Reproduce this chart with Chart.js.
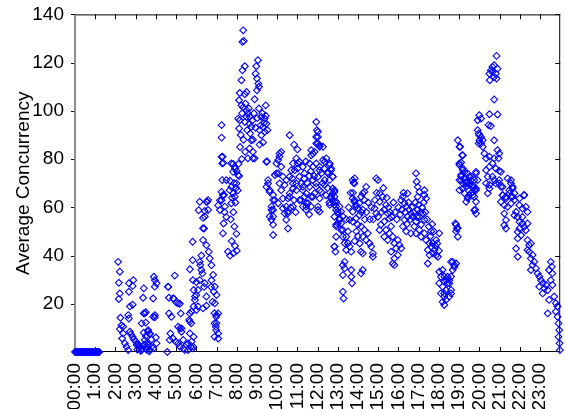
<!DOCTYPE html>
<html><head><meta charset="utf-8">
<script src="https://cdn.jsdelivr.net/npm/chart.js@4.4.0/dist/chart.umd.min.js"></script>
<style>html,body{margin:0;padding:0;background:#fff;}canvas{display:block;}</style>
</head><body>
<canvas id="c" width="566" height="409"></canvas>
<script>
// Tick labels
const hourLabels = ['00:00','1:00','2:00','3:00','4:00','5:00','6:00','7:00','8:00','9:00','10:00','11:00',
  '12:00','13:00','14:00','15:00','16:00','17:00','18:00','19:00','20:00','21:00','22:00','23:00'];
const yTickValues = [0,20,40,60,80,100,120,140];

// Data: [minute of day, average concurrency]
const nightZero = [[0,0],[3,0],[6,0],[9,0],[12,0],[15,0],[18,0],[21,0],[24,0],[27,0],[30,0],[33,0],[36,0],[39,0],[42,0],[45,0],[48,0],[51,0],[54,0],[57,0],[60,0],[63,0],[66,0],[69,0],[72,0]];

const earlyMorning = [[128,37.4],[133,33.3],[130,28.7],[133,24.3],[130,22],[135,14.2],[138,11],[133,9.5],[143,7.7],[140,5.6],[148,3.6],[153,2.2],[158,0.8],[143,10.5],[158,15.3],[160,13.9],[163,18.9],[171,19.6],[160,28.5],[173,29.8],[171,27.4],[160,25],[163,8.4],[166,7.4],[171,6.3],[175,5.2],[181,4.3],[188,3.2],[193,2.2],[198,0.8],[183,2.9],
 [204,26.4],[202,22.5],[204,16],[210,12.2],[204,8],[210,6.6],[217,8.4],[222,7.4],[227,5.2],[234,31.2],[237,29.8],[237,27.1],[232,22.2],[237,14.4],[240,6],[242,3.6],[217,2.9],[227,2.2],[222,0.8],[212,3.6],[207,5],[232,1.5],[207,16],[210,16.5],[198,11.9],[222,7.7],[217,9.1],[232,14.6],[237,15.3],[242,28.5],[185,1],[190,2.5],[195,0.5],[200,1.5],[205,3],[212,1],[215,2],[220,0.3],
 [276,27.1],[296,31.7],[279,22.5],[293,22.2],[301,20.5],[311,20],[314,16],[279,16],[286,14.6],[306,10.5],[311,9.8],[283,7.7],[291,5.6],[299,4.3],[306,3.6],[311,2.2],[321,1.5],[326,0.8],[274,0],[281,5],[316,8.4],[321,5],[331,2.9],[336,0.8],[277,27],[291,22.2],[306,20.2],[316,9.8],
 [349,45.7],[341,34.3],[349,38.1],[350,29.8],[352,25.7],[356,23],[352,18.9],[341,16],[345,11.9],[341,7.7],[336,3.6],[343,2.2],[349,1.5],[339,13.3],[352,6.3],[346,16.8],[341,12.6],[351,2.2],[346,4.3]];

const morningRise = [[367,58.8],[380,55.6],[383,51.2],[380,46.4],[390,44.3],[397,41.6],[400,38.8],[370,37.4],[375,34],[370,29.8],[365,25.7],[360,23.6],[356,21.6],[365,18.9],[385,28.5],[390,23],[380,18.1],[390,19.2],[392,62.3],[385,58.5],[360,17.4],[372,36],[378,32.6],[383,27],[360,29],[375,40],[370,62.3],[390,62.3],[395,63],[395,58.9],[385,56.2],[380,51.3],
 [405,29.8],[410,32],[415,27.1],[420,23.6],[415,20.2],[425,16],[420,15.3],[420,11.9],[425,7.7],[425,5.6],[418,10.5],[405,36],[412,25],[414,16.1],[419,14.6],[414,11.9],[419,9.1],[414,6.3],[408,20.8],[404,27],
 [425,60.8],[435,62.9],[439,65],[444,58],[449,56],[441,53.3],[439,49.2],[454,41.6],[449,71.3],[430,62.9],[435,80.9],[437,78.2],[437,71.3],[435,94.1],[435,88.9],[438,81],[440,78.4],[435,66.4],[442,65.1],[445,60.3],[430,58.9],
 [464,78.2],[474,76.8],[469,74.7],[484,73.4],[479,69.9],[464,68.5],[459,67.1],[469,65.8],[474,64.4],[464,61.7],[469,78],[475,76],[480,75],[487,73],[460,71],[472,70],[478,68],[483,67],[466,64],[476,62],[470,58],[462,55],[473,52],[479,49],[465,46],[475,44],[470,41],[480,42],[460,40]];

const morningPeak = [[499,133.4],[497,128.6],[501,129],[504,118.5],[497,116.8],[494,112.7],[489,107.4],[504,106.9],[509,107.8],[487,104.4],[494,102.3],[499,101.4],[509,100.3],[513,98.9],[484,96.8],[489,96.1],[504,95.4],[518,94.7],[509,97.5],[518,97.5],[523,93.4],[487,92.7],[520,90.6],[523,87.8],[518,84.4],[528,83],[513,80.3],[533,80.3],[533,104.8],[543,121],[538,118.5],[536,115.4],[540,113.4],[544,111.3],[546,110],[540,108.5],[553,97.5],[563,96.8],[568,94.7],[558,93.4],[548,92],[563,91.3],[553,89.9],[566,102.3],
 [492,90],[496,99],[506,103],[511,92],[516,101],[526,96],[531,99],[536,93],[541,97],[546,101],[551,94],[556,99],[561,95],[566,98],[571,92],[528,88],[548,86],[558,86.9],[528,80.3],[568,78.9],[570,79],[490,85],[500,88],[505,83],[495,80],[485,78],
 [573,69.9],[578,67.1],[588,63],[583,58.9],[578,56.2],[573,71.3],[568,68.5],[578,66.4],[588,65.1],[593,63],[583,60.3],[588,58.9],[588,56.2],[583,54.8],[588,52.8],[588,48.5],[593,73.4],[598,78.2]];

const midday = [[607,82.3],[603,79.6],[612,76.8],[598,74.1],[617,72.7],[607,69.9],[627,71.3],[637,89.9],[657,80.3],[661,78.2],[652,75.4],[666,72.7],[647,69.9],[676,68.5],[657,67.1],[637,64.4],[666,63],[647,60.3],[686,61.7],[632,58.2],
 [612,83],[607,81],[603,74.1],[603,61.7],[617,63.7],[612,67.1],[622,69.3],[637,72.7],[642,75.4],[647,78.2],[666,78.9],[661,76.1],[676,76.8],[681,74.1],[657,69.9],[647,67.8],[637,65.8],[632,63.7],[627,60.3],[632,57.5],[627,54.8],[632,51.2],[617,59.6],[622,57.5],
 [671,69.9],[676,67.1],[681,64.4],[671,63],[676,60.3],[691,61.7],[701,60.3],[686,58.9],[701,64.4],[711,65.8],[716,68.5],[706,71.3],[721,72.7],[731,74.1],[726,76.8],[741,78.9],[746,80.3],[755,77.5],[750,74.7],[760,75.4],[765,72.7],[755,71.3],[741,69.3],[731,66.4],[726,63.7],[721,60.3],[726,58.2],[765,67.8],[770,66.4],[760,64.4],[765,63],[770,61],[775,58.9],[780,57.5],[785,54.8],[790,53.4],[795,50.6],[805,47.8],[775,52.8],[770,43.7],
 [716,95.4],[718,92],[716,89.2],[721,86.5],[711,83],[701,81.6],[726,85.1],[736,85.1],[696,78.2],[706,76.8],[716,78.2],[726,75.4],[736,79.6],[750,74.1],[741,71.3],[716,69.9],[696,68.5],[726,67.1],[686,65.8],[706,64.4],[686,60.3],[721,58.9],[721,91.3],[721,89.2],[716,86.5],[726,85.8],[701,83.7],[706,82.3],
 [765,65.8],[770,64.4],[775,62.3],[785,60.3],[790,58.2],[795,56.2],[756,78.2],[760,76.1],[765,72.7],[770,67.1],[760,63.7],[770,62.3],[756,61],[775,60.3],[780,58.2],[770,56.1],[785,55.4],[780,53.4],[775,52.1],[790,50.6],[775,47.8],[795,47.8],[800,45.1],[810,45.1],[805,42.3],[815,43.7],[820,41.6],[770,43.7],[773,41.6],[800,37.4],[795,36],[800,34.7],[795,31.9],[795,25],[797,22.2],
 [690,70],[695,73],[680,72],[685,79],[660,84],[650,86],[645,72],[700,75],[710,73],[740,76],[735,70],[750,68],[745,65],[755,62],[650,63],[640,60],[655,58],[695,57]];

const afternoon = [[824,71.3],[829,69.9],[829,63],[834,60.3],[824,58.2],[830,72],[827,70.2],[820,34],[820,31.2],[822,28.5],[849,41.6],[854,40.9],[854,34],[849,32.6],[824,63.7],[829,62.3],[834,61],[839,59.6],[844,61.7],[849,64.4],[854,65.8],[859,66.4],[864,68.5],[859,63],[854,59],[844,56.8],[834,55.4],[824,54.1],[815,54.8],[839,52.8],[849,52.1],[859,50.6],[869,49.2],[854,47.8],[864,46.4],[874,45.1],[879,43.7],[884,40.9],[884,39.5],
 [894,72],[899,71.3],[904,65.8],[913,64.4],[904,62.3],[923,61],[918,59],[928,57.5],[933,55.4],[918,54.1],[908,52.8],[899,56.1],[894,57.5],[889,59.6],[904,50.6],[923,50.6],[938,52.1],[933,49.2],[943,47.8],[928,46.4],[918,47.8],[948,45.1],[953,43],[938,41.6],[958,40.2],[948,38.8],[943,36.7],[948,36],[963,44.4],[968,43],[958,46.4],
 [973,64.4],[968,63],[978,61.7],[987,65.8],[983,60.3],[992,59],[997,57.5],[987,56.1],[978,54.8],[973,52.1],[983,50],[997,49.2],[1007,52.1],[1012,54.1],[1002,56.1],[1017,59],[1022,56.1],[1032,57.5],[1037,54.8],[1027,52.8],[1022,50.6],[1012,49.2],[1027,47.8],[1037,49.2],[1042,46.4],[1052,45.1],[1047,42.3],[1057,43.7],[1012,74.1],[1014,70.6],[1017,68.5],[1022,66.4],[1037,67.1],[1042,63.7],[1017,64.4],[1037,65.1],
 [1047,36.7],[1052,40.2],[1062,40.9],[1072,40.2],[1077,39.5],[1067,42.3],[1057,50],[1072,46.4],[1062,45.1],[1081,49.2],[1081,33.3],[1091,34],[1086,31.2],[1096,29.2],[1081,28.5],[1091,27.1],[1101,25.7],[1086,24.3],[1096,23],[1091,20.8],[1096,19.5],[1106,31.2],[1111,28.5],[1116,25.7],[1121,34],[1126,35.3],[1116,37.4],[1131,36.7],[1131,52.8],[1136,51.4],[1131,50],[1136,47.8],[1096,31.3],[1101,29.8],[1106,28.5],[1096,24.3],[1101,21.6],[1111,23],[1116,24.3],[1111,29.8],[1116,31.3],[1121,37.4],[1126,36],[1129,53.3],[1133,51.2],
 [880,60],[885,55],[890,63],[895,66],[910,58],[915,68],[925,64],[930,60],[935,58],[940,56],[945,62],[950,58],[955,55],[960,60],[965,57],[970,59],[975,66],[980,58],[985,53],[990,62],[995,55],[1000,60],[1005,58],[1010,62],[1015,56],[1020,61],[1025,58],[1030,60],[1035,62],[1040,58],[1045,55],[1050,52],[1055,48],[1060,53],[1065,50],[1070,44],[1075,45],[1080,42],[840,48],[845,45],[860,55],[865,58],[870,62],[875,55],[850,58],[835,50],[830,46],[810,50],[805,55],[812,60],[818,66],[825,66]];

const evening = [[1136,87.8],[1141,85.1],[1151,81.6],[1146,78.6],[1141,77.5],[1151,75.4],[1146,73.4],[1156,72],[1146,71.3],[1161,69.9],[1151,67.8],[1165,74.1],[1175,72.7],[1190,74.7],[1185,71.3],[1170,69.2],[1180,68.5],[1190,67.8],[1180,66.4],[1170,65.1],[1185,64.4],[1161,62.3],[1190,62.3],[1188,59],[1198,90.6],[1198,86.5],[1143,85.1],[1149,81.6],
 [1251,122.8],[1239,118.2],[1244,118.9],[1234,116.8],[1230,115.4],[1239,116.1],[1249,115.4],[1254,117.5],[1231,112.7],[1251,113.4],[1244,114],[1244,104.7],[1230,98.6],[1254,98.5],[1227,94.1],[1234,93.7],[1200,98.2],[1195,96.1],[1205,96.8],[1195,92],[1200,89.9],[1205,89.2],[1210,87.8],[1200,87.8],[1205,86.5],[1244,87.8],[1210,85.1],[1215,82.3],[1220,80.3],[1230,81],[1254,83.7],[1259,82.3],[1257,80.3],[1244,80.3],[1239,78.2],[1230,76.8],[1220,75.4],[1249,76.1],[1259,75.1],[1264,74.7],
 [1141,78.2],[1151,76.1],[1156,74.7],[1146,72.7],[1141,71.3],[1151,69.9],[1161,70.6],[1170,72.7],[1175,71.3],[1180,69.3],[1190,74.1],[1195,71.3],[1185,67.1],[1175,65.8],[1166,64.4],[1141,67.1],[1156,65.8],[1161,68.5],[1225,72.7],[1220,69.9],[1230,69.3],[1239,72.7],[1244,71.3],[1249,69.9],[1259,71.3],[1264,68.5],[1284,72],[1294,71.3],[1299,68.5],[1289,67.1],[1304,65.8],[1269,65.1],[1279,64.4],[1294,64.4],[1333,65.1],
 [1166,63.7],[1180,65],[1185,68.5],[1190,67.1],[1170,69.9],[1230,67.8],[1225,65.8],[1259,69.9],[1269,68.5],[1294,69.9],[1299,67.8],[1185,58.8],[1190,57.4]];

const lateNight = [[1269,65],[1279,63.7],[1289,65.8],[1299,64.4],[1264,62.3],[1274,60.9],[1284,60.2],[1294,61.6],[1304,63],[1319,63.7],[1333,65],[1319,60.9],[1328,59.5],[1338,60.2],[1343,58.1],[1309,58.1],[1304,56.7],[1314,56],[1328,56],[1274,57.4],[1279,54.7],[1274,52.6],[1279,51.2],[1319,54],[1328,53.3],[1333,51.9],[1343,53.3],[1338,50.5],[1319,51.2],[1314,49.8],[1324,48.4],[1314,47.1],[1309,42.9],[1314,39.5],
 [1343,46.4],[1348,44.3],[1353,45],[1343,42.3],[1348,41.6],[1358,40.2],[1353,38.8],[1363,37.4],[1358,36],[1368,34.7],[1353,34],[1373,32.6],[1378,31.3],[1383,29.8],[1388,28.5],[1378,27.1],[1393,26.4],[1398,27.8],[1388,24.3],[1403,25.7],[1412,37.4],[1415,35.4],[1407,34],[1417,32.6],[1412,29.8],[1417,27.8],[1407,21.6],[1403,16],[1422,23],[1427,20.2],[1432,18.9],[1427,16.8],[1432,14.6],[1435,11.9],[1437,9.1],[1435,6.3],[1438,3.6],[1439,0.8]];

const allSegments = [nightZero, earlyMorning, morningRise, morningPeak, midday, afternoon, evening, lateNight];
const points = allSegments.flat().map(([m, v]) => ({x: m, y: v}));

const FONT = {family: "'Liberation Sans', Arial, Helvetica, sans-serif", size: 19};

const boxPlugin = {
  id: 'boxTicks',
  beforeDatasetsDraw(chart) {
    const {ctx, chartArea: a, scales: {x, y}} = chart;
    ctx.save();
    ctx.lineWidth = 1;
    ctx.strokeStyle = '#000';
    ctx.beginPath();
    ctx.moveTo(a.left, a.top + 0.5); ctx.lineTo(a.right, a.top + 0.5);
    ctx.moveTo(a.right - 0.5, a.top); ctx.lineTo(a.right - 0.5, a.bottom);
    ctx.moveTo(a.left, a.bottom - 0.5); ctx.lineTo(a.right, a.bottom - 0.5);
    x.ticks.forEach(t => {
      const px = Math.round(x.getPixelForValue(t.value)) + 0.5;
      ctx.moveTo(px, a.bottom); ctx.lineTo(px, a.bottom - 5);
      ctx.moveTo(px, a.top); ctx.lineTo(px, a.top + 5);
    });
    y.ticks.forEach(t => {
      const py = Math.round(y.getPixelForValue(t.value)) + 0.5;
      ctx.moveTo(a.right, py); ctx.lineTo(a.right - 5, py);
      ctx.moveTo(a.left, py); ctx.lineTo(a.left - 4, py);
    });
    ctx.stroke();
    ctx.beginPath();
    ctx.strokeStyle = '#8c8c8c';
    ctx.lineWidth = 2;
    ctx.moveTo(a.left, a.top); ctx.lineTo(a.left, a.bottom);
    ctx.stroke();
    ctx.restore();
  }
};

new Chart(document.getElementById('c'), {
  type: 'scatter',
  data: {
    datasets: [{
      data: points,
      pointStyle: 'rectRot',
      pointRadius: 3.4,
      pointBorderWidth: 1.1,
      borderColor: 'rgb(0,0,255)',
      backgroundColor: 'rgba(0,0,0,0)',
      pointBorderColor: 'rgb(0,0,255)',
      pointBackgroundColor: 'rgba(0,0,0,0)',
      clip: false
    }]
  },
  options: {
    responsive: false,
    animation: false,
    devicePixelRatio: 1,
    layout: {padding: {top: 14, right: 5, left: 0, bottom: 0}},
    plugins: {legend: {display: false}, tooltip: {enabled: false}},
    scales: {
      x: {
        type: 'linear', min: 0, max: 1440,
        grid: {display: false}, border: {display: false},
        ticks: {
          stepSize: 60, autoSkip: false, minRotation: 90, maxRotation: 90, padding: 3,
          color: '#000', font: FONT,
          callback: v => { const l = hourLabels[Math.round(v / 60)]; return l === undefined ? null : l; }
        },
        afterFit: s => { s.height = 57; }
      },
      y: {
        min: yTickValues[0], max: yTickValues[yTickValues.length - 1],
        grid: {display: false}, border: {display: false},
        ticks: {stepSize: 20, padding: 3, color: '#000', font: FONT,
          callback: v => (v === 0 ? null : String(v))},
        title: {display: true, text: 'Average Concurrency', color: '#000', font: FONT, padding: {top: 12, bottom: 0}},
        afterFit: s => { s.width = 75; }
      }
    }
  },
  plugins: [boxPlugin]
});
</script>
</body></html>
